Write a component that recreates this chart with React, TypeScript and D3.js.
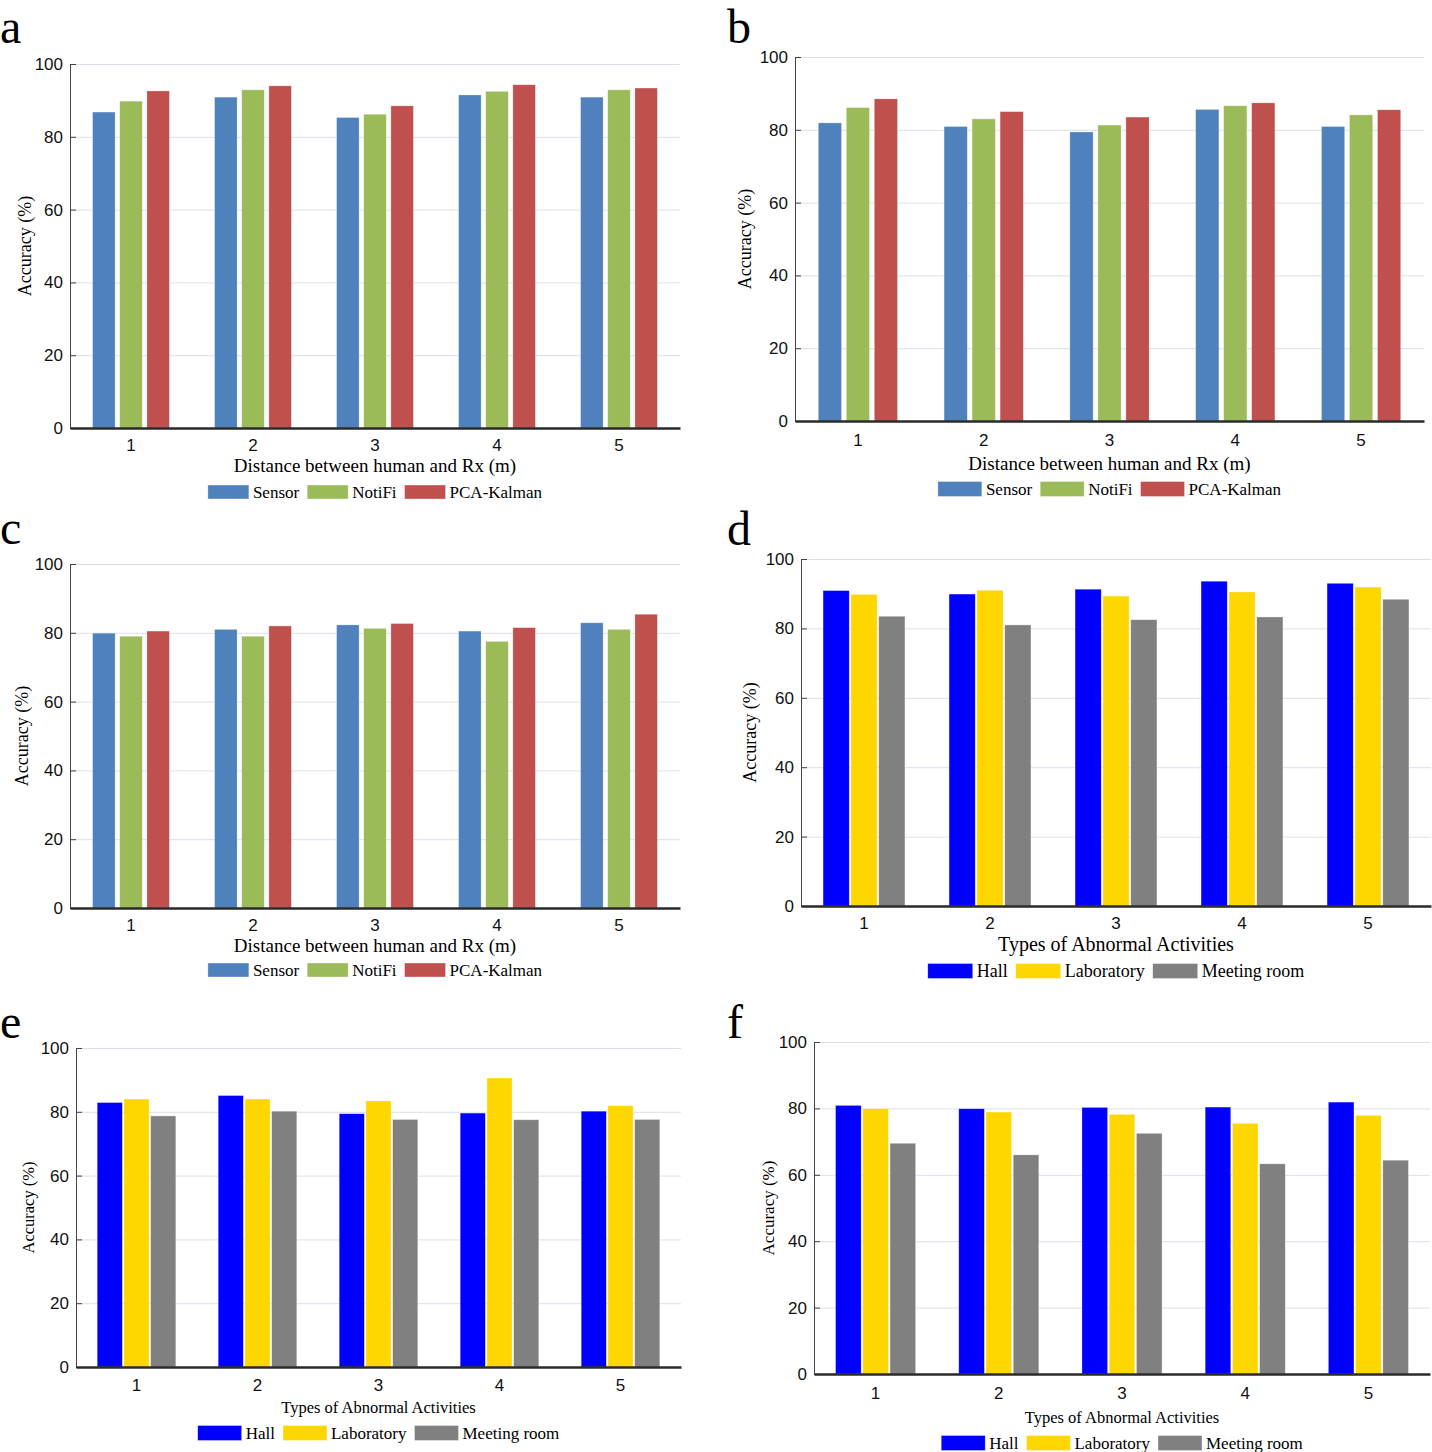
import React, { useEffect, useRef } from 'react';
import * as d3 from 'd3';

// categories
const positions = ['1', '2', '3', '4', '5'];
const methods = ['Sensor', 'NotiFi', 'PCA-Kalman'];
const rooms = ['Hall', 'Laboratory', 'Meeting room'];
const yTicks = [0, 20, 40, 60, 80, 100];

// a
const aSensor = [86.8, 90.9, 85.3, 91.5, 90.9];
const aNotiFi = [89.8, 92.9, 86.2, 92.5, 92.9];
const aPcaKalman = [92.6, 94.0, 88.5, 94.3, 93.4];
// b
const bSensor = [81.9, 80.9, 79.4, 85.6, 80.9];
const bNotiFi = [86.1, 83.0, 81.3, 86.6, 84.1];
const bPcaKalman = [88.5, 85.0, 83.5, 87.4, 85.5];
// c
const cSensor = [79.9, 81.0, 82.3, 80.5, 82.9];
const cNotiFi = [79.0, 79.0, 81.3, 77.5, 81.0];
const cPcaKalman = [80.5, 82.0, 82.7, 81.5, 85.4];
// d
const dHall = [90.9, 89.9, 91.3, 93.6, 93.0];
const dLab = [89.8, 91.0, 89.3, 90.5, 91.9];
const dMeeting = [83.5, 81.0, 82.5, 83.3, 88.4];
// e
const eHall = [82.9, 85.1, 79.4, 79.6, 80.2];
const eLab = [84.0, 84.0, 83.4, 90.6, 81.9];
const eMeeting = [78.7, 80.2, 77.6, 77.5, 77.6];
// f
const fHall = [80.9, 79.9, 80.3, 80.4, 81.9];
const fLab = [79.9, 78.9, 78.2, 75.5, 77.9];
const fMeeting = [69.5, 66.0, 72.5, 63.3, 64.4];

const methodColors = ['#4f81bd', '#9bbb59', '#c0504d'];
const roomColors = ['#0000ff', '#ffd700', '#808080'];

const distTitle = 'Distance between human and Rx (m)';
const typeTitle = 'Types of Abnormal Activities';

const serif = '"Liberation Serif", "Times New Roman", serif';
const sans = '"Liberation Sans Narrow", "Arial Narrow", "Liberation Sans", Arial, sans-serif';

const panels = [
  { letter: 'a', lx: 0, ly: 43, series: [aSensor, aNotiFi, aPcaKalman], names: methods, colors: methodColors, xTitle: distTitle,
    left: 70, right: 680, top: 64, bottom: 428, tickY: 445, titleY: 465, legY: 492, yTitleX: 25,
    titleSize: 19, yTitleSize: 18, legSize: 17, sw: 41, sh: 14, group: 0.63, inner: 0.17 },
  { letter: 'b', lx: 727, ly: 43, series: [bSensor, bNotiFi, bPcaKalman], names: methods, colors: methodColors, xTitle: distTitle,
    left: 795, right: 1424, top: 57, bottom: 421, tickY: 440, titleY: 463, legY: 489, yTitleX: 745,
    titleSize: 19, yTitleSize: 18, legSize: 17, sw: 44, sh: 15, group: 0.63, inner: 0.17 },
  { letter: 'c', lx: 0, ly: 544, series: [cSensor, cNotiFi, cPcaKalman], names: methods, colors: methodColors, xTitle: distTitle,
    left: 70, right: 680, top: 564, bottom: 908, tickY: 925, titleY: 945, legY: 970, yTitleX: 22,
    titleSize: 19, yTitleSize: 18, legSize: 17, sw: 41, sh: 14, group: 0.63, inner: 0.17 },
  { letter: 'd', lx: 727, ly: 545, series: [dHall, dLab, dMeeting], names: rooms, colors: roomColors, xTitle: typeTitle,
    left: 801, right: 1431, top: 559, bottom: 906, tickY: 923, titleY: 944, legY: 971, yTitleX: 750,
    titleSize: 20, yTitleSize: 18, legSize: 18, sw: 45, sh: 15, group: 0.65, inner: 0.06 },
  { letter: 'e', lx: 0, ly: 1038, series: [eHall, eLab, eMeeting], names: rooms, colors: roomColors, xTitle: typeTitle,
    left: 76, right: 681, top: 1048, bottom: 1367, tickY: 1385, titleY: 1407, legY: 1433, yTitleX: 28,
    titleSize: 16.5, yTitleSize: 16.5, legSize: 17, sw: 44, sh: 15, group: 0.65, inner: 0.06 },
  { letter: 'f', lx: 727, ly: 1038, series: [fHall, fLab, fMeeting], names: rooms, colors: roomColors, xTitle: typeTitle,
    left: 814, right: 1430, top: 1042, bottom: 1374, tickY: 1393, titleY: 1417, legY: 1443, yTitleX: 768,
    titleSize: 16.5, yTitleSize: 17, legSize: 17, sw: 44, sh: 15, group: 0.65, inner: 0.06 },
];

function drawPanel(svg, p) {
  const g = svg.append('g');
  const x0 = d3.scaleBand().domain(positions).range([p.left, p.right])
    .paddingInner(1 - p.group).paddingOuter((1 - p.group) / 2);
  const x1 = d3.scaleBand().domain(p.names).range([0, x0.bandwidth()]).paddingInner(p.inner);
  const y = d3.scaleLinear().domain([0, 100]).range([p.bottom, p.top]);

  // grid
  g.selectAll('line.grid').data(yTicks.filter(t => t > 0)).enter().append('line')
    .attr('x1', p.left).attr('x2', p.right)
    .attr('y1', d => y(d) + 0.5).attr('y2', d => y(d) + 0.5)
    .attr('stroke', '#dedeea').attr('stroke-width', 1);

  // bars
  p.names.forEach((name, si) => {
    g.append('g').selectAll('rect').data(p.series[si]).enter().append('rect')
      .attr('x', (d, i) => x0(positions[i]) + x1(name))
      .attr('y', d => y(d))
      .attr('width', x1.bandwidth())
      .attr('height', d => y(0) - y(d))
      .attr('fill', p.colors[si])
      .attr('stroke', 'rgba(255,255,255,0.5)').attr('stroke-width', 0.6);
  });

  // left axis
  const ya = g.append('g').attr('transform', `translate(${p.left},0)`)
    .call(d3.axisLeft(y).tickValues(yTicks).tickSizeInner(-6).tickSizeOuter(0).tickPadding(7));
  ya.attr('font-size', null).attr('font-family', null);
  ya.select('.domain').attr('stroke', '#444');
  ya.selectAll('.tick line').attr('stroke', '#444');
  ya.selectAll('text').style('font-family', sans).style('font-size', '17px').attr('fill', '#111');

  // bottom axis
  const xa = g.append('g').attr('transform', `translate(0,${p.bottom})`)
    .call(d3.axisBottom(x0).tickSize(0).tickPadding(p.tickY - p.bottom - 6));
  xa.attr('font-size', null).attr('font-family', null);
  xa.select('.domain').attr('stroke', '#2a2a2a').attr('stroke-width', 2.5);
  xa.selectAll('text').style('font-family', sans).style('font-size', '17px').attr('fill', '#111');

  // titles
  const cx = (p.left + p.right) / 2;
  g.append('text').attr('x', cx).attr('y', p.titleY).attr('text-anchor', 'middle')
    .attr('dominant-baseline', 'central').attr('font-family', serif).attr('font-size', p.titleSize)
    .text(p.xTitle);
  g.append('text').attr('transform', `translate(${p.yTitleX},${(p.top + p.bottom) / 2}) rotate(-90)`)
    .attr('text-anchor', 'middle').attr('dominant-baseline', 'central')
    .attr('font-family', serif).attr('font-size', p.yTitleSize).text('Accuracy (%)');
  g.append('text').attr('x', p.lx).attr('y', p.ly).attr('font-family', serif).attr('font-size', 48)
    .text(p.letter);

  // legend
  const leg = g.append('g');
  let lx = 0;
  p.names.forEach((name, i) => {
    leg.append('rect').attr('x', lx).attr('y', -p.sh / 2).attr('width', p.sw).attr('height', p.sh)
      .attr('fill', p.colors[i]).attr('stroke', 'rgba(255,255,255,0.6)').attr('stroke-width', 0.6);
    const t = leg.append('text').attr('x', lx + p.sw + 4).attr('y', 0).attr('dominant-baseline', 'central')
      .attr('font-family', serif).attr('font-size', p.legSize).text(name);
    const w = t.node().getComputedTextLength();
    lx += p.sw + 4 + w + 8;
  });
  const total = lx - 8;
  leg.attr('transform', `translate(${cx - total / 2},${p.legY})`);
}

export default function App() {
  const ref = useRef(null);
  useEffect(() => {
    const svg = d3.select(ref.current);
    svg.selectAll('*').remove();
    panels.forEach(p => drawPanel(svg, p));
  }, []);
  return (
    <svg ref={ref} width={1432} height={1452}
      style={{ position: 'absolute', left: 0, top: 0, background: '#fff' }} />
  );
}
